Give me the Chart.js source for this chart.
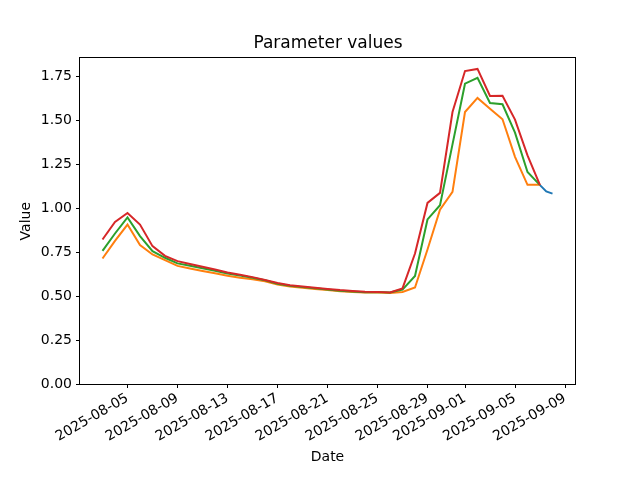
<!DOCTYPE html>
<html>
<head>
<meta charset="utf-8">
<script src="https://cdn.jsdelivr.net/npm/chart.js@4/dist/chart.umd.min.js"></script>
<style>
  html, body { margin: 0; padding: 0; background: #fff; }
</style>
</head>
<body>
<canvas id="myChart" width="640" height="480"></canvas>
<script>
const dates = [
    '2025-08-03', '2025-08-04', '2025-08-05', '2025-08-06', '2025-08-07', '2025-08-08',
    '2025-08-09', '2025-08-10', '2025-08-11', '2025-08-12', '2025-08-13', '2025-08-14',
    '2025-08-15', '2025-08-16', '2025-08-17', '2025-08-18', '2025-08-19', '2025-08-20',
    '2025-08-21', '2025-08-22', '2025-08-23', '2025-08-24', '2025-08-25', '2025-08-26',
    '2025-08-27', '2025-08-28', '2025-08-29', '2025-08-30', '2025-08-31', '2025-09-01',
    '2025-09-02', '2025-09-03', '2025-09-04', '2025-09-05', '2025-09-06', '2025-09-07'
];
const orangeValues = [
    0.714, 0.814, 0.907, 0.790, 0.737, 0.705, 0.672, 0.657, 0.643, 0.630, 0.616, 0.605,
    0.596, 0.584, 0.566, 0.555, 0.547, 0.541, 0.535, 0.528, 0.523, 0.520, 0.521, 0.518,
    0.523, 0.549, 0.765, 0.992, 1.093, 1.547, 1.627, 1.566, 1.506, 1.292, 1.133, 1.133
];
const greenValues = [
    0.757, 0.856, 0.947, 0.841, 0.756, 0.718, 0.686, 0.672, 0.658, 0.644, 0.629, 0.617,
    0.604, 0.590, 0.570, 0.559, 0.551, 0.544, 0.538, 0.531, 0.526, 0.522, 0.523, 0.520,
    0.537, 0.614, 0.936, 1.017, 1.363, 1.708, 1.742, 1.598, 1.591, 1.430, 1.206, 1.131
];
const redValues = [
    0.822, 0.922, 0.973, 0.907, 0.784, 0.729, 0.699, 0.683, 0.667, 0.651, 0.634, 0.622,
    0.608, 0.592, 0.574, 0.562, 0.554, 0.547, 0.541, 0.534, 0.529, 0.525, 0.524, 0.521,
    0.544, 0.742, 1.030, 1.087, 1.547, 1.780, 1.792, 1.638, 1.640, 1.504, 1.300, 1.131
];
const blueDates = ['2025-09-07T00', '2025-09-07T12', '2025-09-08T00'];
const blueValues = [1.131, 1.095, 1.083];

const tickDates = [
    '2025-08-05', '2025-08-09', '2025-08-13', '2025-08-17', '2025-08-21',
    '2025-08-25', '2025-08-29', '2025-09-01', '2025-09-05', '2025-09-09'
];
const yTicks = [0, 0.25, 0.5, 0.75, 1.0, 1.25, 1.5, 1.75];

// days since first date
const start = Date.parse(dates[0]);
function dayOf(s) {
    let d = (Date.parse(s.slice(0, 10)) - start) / 864e5;
    if (s.length > 10) d += parseInt(s.slice(11, 13)) / 24;
    return d;
}
function points(ds, vs) {
    return ds.map((d, i) => ({ x: dayOf(d), y: vs[i] }));
}

Chart.defaults.font.family = '"DejaVu Sans", sans-serif';
Chart.defaults.font.size = 14;
Chart.defaults.color = '#000';

const frame = {
    id: 'frame',
    afterDatasetsDraw(chart) {
        const a = chart.chartArea;
        const c = chart.ctx;
        c.save();
        c.strokeStyle = '#000';
        c.lineWidth = 1;
        c.strokeRect(Math.round(a.left) - 0.5, Math.round(a.top) - 0.5,
            Math.round(a.right - a.left) + 1, Math.round(a.bottom - a.top) + 1);
        c.restore();
    }
};

function line(data, color, order) {
    return {
        data: data,
        borderColor: color,
        backgroundColor: color,
        borderWidth: 2,
        pointRadius: 0,
        tension: 0,
        fill: false,
        order: order
    };
}

const config = {
    type: 'line',
    data: {
        datasets: [
            line(points(blueDates, blueValues), '#1f77b4', 4),
            line(points(dates, orangeValues), '#ff7f0e', 3),
            line(points(dates, greenValues), '#2ca02c', 2),
            line(points(dates, redValues), '#d62728', 1)
        ]
    },
    options: {
        responsive: false,
        animation: false,
        layout: { padding: { left: 16, right: 0, top: 0, bottom: 10 } },
        plugins: {
            legend: { display: false },
            tooltip: { enabled: false },
            title: {
                display: true,
                text: 'Parameter values',
                font: { size: 17, weight: 'normal' },
                padding: { top: 33, bottom: 5 }
            }
        },
        scales: {
            x: {
                type: 'linear',
                min: -1.8,
                max: 37.8,
                afterBuildTicks(axis) {
                    axis.ticks = tickDates.map(d => ({ value: dayOf(d), label: d }));
                },
                afterFit(axis) { axis.height = 86; },
                ticks: {
                    minRotation: 30,
                    maxRotation: 30,
                    padding: 2,
                    autoSkip: false,
                    callback: function (v) {
                        const t = this.ticks.find(k => k.value === v);
                        return t ? t.label : '';
                    }
                },
                grid: { display: true, drawOnChartArea: false, drawTicks: true, tickLength: 4, color: '#000' },
                border: { display: false },
                title: { display: true, text: 'Date', padding: { top: 4, bottom: 4 } }
            },
            y: {
                min: 0,
                max: 1.852,
                afterBuildTicks(axis) {
                    axis.ticks = yTicks.map(v => ({ value: v }));
                },
                afterFit(axis) { axis.width = 64; },
                ticks: {
                    padding: 4,
                    callback: v => v.toFixed(2)
                },
                grid: { display: true, drawOnChartArea: false, drawTicks: true, tickLength: 4, color: '#000' },
                border: { display: false },
                title: { display: true, text: 'Value', padding: { top: 2, bottom: 4 } }
            },
            // empty right-hand space so the title centres over the axes
            yRight: {
                type: 'linear',
                position: 'right',
                min: 0,
                max: 1,
                afterFit(axis) { axis.width = 65; },
                ticks: { display: false },
                grid: { display: false },
                border: { display: false }
            }
        }
    },
    plugins: [frame]
};

const myChart = new Chart(document.getElementById('myChart'), config);
</script>
</body>
</html>
